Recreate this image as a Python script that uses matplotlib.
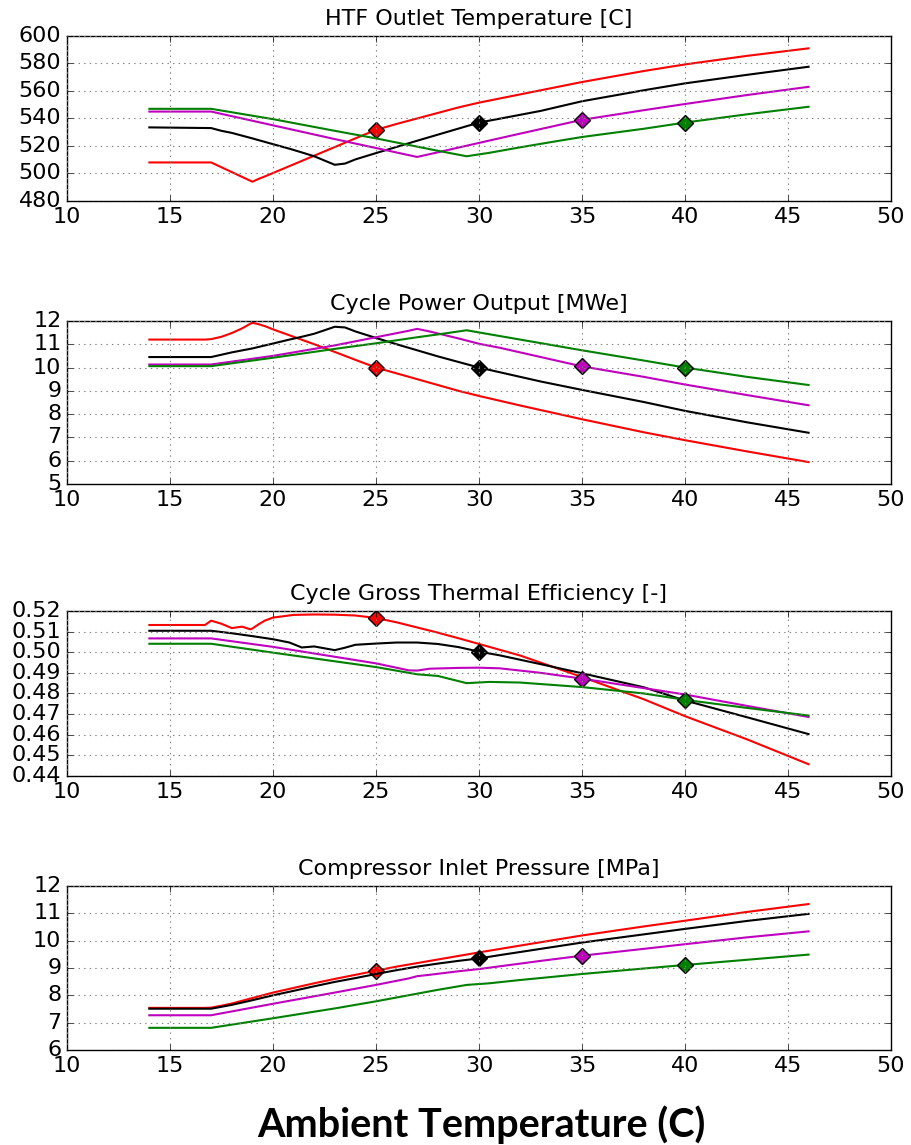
import numpy as np
import matplotlib
matplotlib.use('Agg')
import matplotlib.pyplot as plt

plt.style.use('classic')

# Ambient temperature sample points for each design case
red_t = [14, 16.7, 17, 17.5, 18, 18.5, 18.9, 19, 19.3, 19.6, 20, 21, 22, 23, 24, 25,
         26, 27, 28, 29, 30, 32, 35, 38, 40, 43, 46]
blk_t = [14, 17, 17.5, 18, 19, 20, 20.8, 21.4, 22, 23, 23.5, 24, 25, 26, 27, 28, 29,
         30, 31, 33, 35, 38, 40, 43, 46]
mag_t = [14, 17, 20, 23, 25, 26.6, 27, 27.6, 29, 30, 31, 33, 35, 38, 40, 43, 46]
grn_t = [14, 17, 20, 23, 25, 27, 28, 29.4, 30.5, 32, 33.5, 35, 38, 40, 43, 46]

# design point temperature of each case
design_t = [25, 30, 35, 40]

# HTF outlet temperature [C]
red_htf = [508, 508, 508, 504.5, 501, 497.5, 494.7, 494, 496, 497.8, 500.3, 506.6,
           512.9, 519.2, 525.5, 531.7, 536, 540, 544, 548, 551.5, 557.5, 566.5,
           574.5, 579.3, 585.5, 591]
blk_htf = [533.5, 533, 531, 529.5, 525.5, 521.3, 518, 515.3, 512.5, 506.3, 507.2,
           510.2, 514.8, 519.3, 523.8, 528.2, 532.6, 537, 539.8, 545.5, 552.5,
           560.5, 565.5, 571.7, 577.6]
mag_htf = [545, 545, 535, 525, 518.5, 513.3, 512, 514, 518.8, 522.2, 525.6, 532.3,
           539, 546, 550.5, 557, 563]
grn_htf = [547, 547, 539.5, 531, 525.5, 519.5, 516.5, 512.5, 515, 519, 522.8, 526.5,
           532.5, 537, 543, 548.5]

# cycle power output [MWe]
red_pow = [11.2, 11.2, 11.22, 11.32, 11.48, 11.68, 11.88, 11.92, 11.86, 11.78, 11.64,
           11.32, 11.0, 10.67, 10.33, 10.0, 9.75, 9.5, 9.25, 9.0, 8.78, 8.37, 7.78,
           7.22, 6.88, 6.4, 5.94]
blk_pow = [10.45, 10.45, 10.55, 10.65, 10.82, 11.03, 11.2, 11.32, 11.45, 11.75, 11.72,
           11.55, 11.27, 11.0, 10.74, 10.48, 10.24, 10.0, 9.8, 9.4, 9.04, 8.52, 8.14,
           7.65, 7.2]
mag_pow = [10.13, 10.13, 10.5, 10.95, 11.3, 11.58, 11.66, 11.55, 11.25, 11.02, 10.85,
           10.45, 10.05, 9.6, 9.27, 8.82, 8.38]
grn_pow = [10.06, 10.06, 10.42, 10.8, 11.04, 11.3, 11.42, 11.6, 11.43, 11.2, 10.97,
           10.74, 10.3, 10.0, 9.6, 9.25]

# cycle gross thermal efficiency [-]
red_eff = [.5132, .5132, .5153, .5138, .5117, .5124, .5111, .5115, .5135, .5153, .5168,
           .5181, .5183, .5182, .5178, .5166, .5145, .5120, .5095, .5068, .5040,
           .4984, .4880, .4772, .4690, .4578, .4457]
blk_eff = [.5104, .5104, .5098, .5092, .5078, .5063, .5047, .5023, .5028, .5010, .5022,
           .5036, .5042, .5047, .5047, .5040, .5025, .5003, .4985, .4942, .4898,
           .4830, .4766, .4685, .4603]
mag_eff = [.5067, .5067, .5026, .4978, .4946, .4912, .4911, .4920, .4924, .4925, .4922,
           .4900, .4872, .4826, .4795, .4740, .4686]
grn_eff = [.5041, .5041, .4998, .4956, .4928, .4893, .4885, .4850, .4856, .4853, .4842,
           .4831, .4800, .4769, .4730, .4693]

# compressor inlet pressure [MPa]
red_pin = [7.54, 7.54, 7.55, 7.62, 7.7, 7.8, 7.88, 7.9, 7.96, 8.02, 8.1, 8.27, 8.44,
           8.6, 8.75, 8.9, 9.05, 9.18, 9.31, 9.44, 9.57, 9.82, 10.19, 10.52, 10.73,
           11.05, 11.34]
blk_pin = [7.51, 7.51, 7.58, 7.65, 7.82, 8.0, 8.13, 8.23, 8.33, 8.49, 8.56, 8.63, 8.78,
           8.92, 9.05, 9.16, 9.26, 9.35, 9.47, 9.7, 9.93, 10.23, 10.43, 10.72, 10.98]
mag_pin = [7.27, 7.27, 7.69, 8.1, 8.38, 8.62, 8.7, 8.75, 8.88, 8.96, 9.06, 9.26, 9.45,
           9.7, 9.87, 10.12, 10.34]
grn_pin = [6.81, 6.81, 7.16, 7.52, 7.78, 8.06, 8.2, 8.38, 8.44, 8.56, 8.67, 8.78, 8.98,
           9.11, 9.3, 9.49]

titles = ['HTF Outlet Temperature [C]', 'Cycle Power Output [MWe]',
          'Cycle Gross Thermal Efficiency [-]', 'Compressor Inlet Pressure [MPa]']
ylims = [(480, 600), (5, 12), (0.44, 0.52), (6, 12)]
yticks = [np.arange(480, 601, 20), np.arange(5, 13, 1),
          np.arange(0.44, 0.5201, 0.01), np.arange(6, 13, 1)]

temps = [red_t, blk_t, mag_t, grn_t]
colors = ['r', 'k', 'm', 'g']
panels = [[red_htf, blk_htf, mag_htf, grn_htf],
          [red_pow, blk_pow, mag_pow, grn_pow],
          [red_eff, blk_eff, mag_eff, grn_eff],
          [red_pin, blk_pin, mag_pin, grn_pin]]

fig = plt.figure(figsize=(9.11, 11.45), dpi=100, facecolor='white')

# axes boxes (left, bottom, width, height) in figure fractions
boxes = [[0.0735, 0.8245, 0.9045, 0.1441],
         [0.0735, 0.5773, 0.9045, 0.1424],
         [0.0735, 0.3223, 0.9045, 0.1441],
         [0.0735, 0.0830, 0.9045, 0.1432]]

for i in range(4):
    ax = fig.add_axes(boxes[i])
    ax.set_facecolor('white')
    for t, y, c, td in zip(temps, panels[i], colors, design_t):
        ax.plot(t, y, color=c, lw=1.5)
        k = t.index(td)
        ax.plot(t[k], y[k], 'D', color=c, markersize=8, markeredgecolor='k',
                markeredgewidth=1)
    ax.set_xlim(10, 50)
    ax.set_xticks(np.arange(10, 51, 5))
    ax.set_ylim(*ylims[i])
    ax.set_yticks(yticks[i])
    if i == 2:
        ax.set_yticklabels(['%.2f' % v for v in yticks[i]])
    ax.grid(True, linestyle=':', color='0.5', linewidth=0.8)
    ax.tick_params(labelsize=16)
    ax.set_title(titles[i], fontsize=16, pad=8)

fig.text(0.528, 0.0175, 'Ambient Temperature (C)', ha='center', va='center',
         fontsize=28.5, fontweight='bold', family='Lato')

fig.savefig('out.png', dpi=100, facecolor='white')
